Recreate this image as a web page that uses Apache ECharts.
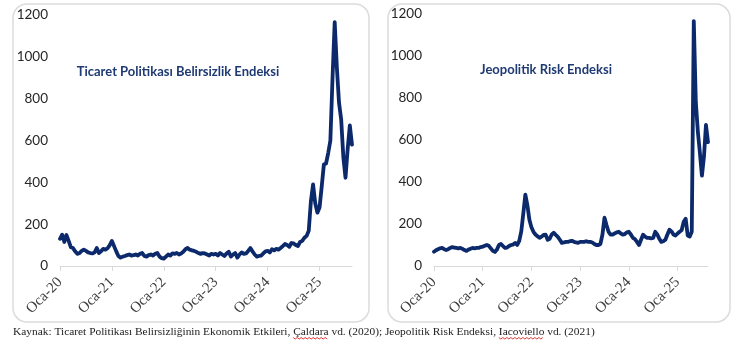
<!DOCTYPE html>
<html>
<head>
<meta charset="utf-8">
<script src="https://cdn.jsdelivr.net/npm/echarts@6/dist/echarts.min.js"></script>
<style>
  html, body { margin: 0; padding: 0; background: #fff; }
  #main { width: 740px; height: 351px; }
</style>
</head>
<body>
<div id="main"></div>
<script>
// yillik etiketler (her 24 yarim-ay noktasinda bir tane)
var tickLabels = ['Oca-20', 'Oca-21', 'Oca-22', 'Oca-23', 'Oca-24', 'Oca-25'];

// Ticaret Politikasi Belirsizlik Endeksi, yarim-aylik okuma (Oca-20 .. Agu-25)
var tpuValues = [
  130, 150, 115, 148, 120, 90, 86, 70, 58, 62, 72, 78, 72, 65, 62, 60, 65, 86, 62, 70, 82, 78, 85, 100,
  120, 95, 70, 48, 40, 45, 48, 52, 55, 50, 52, 55, 50, 58, 62, 48, 45, 52, 55, 50, 58, 62, 45, 38,
  35, 45, 55, 50, 60, 58, 62, 55, 60, 68, 80, 86, 78, 75, 72, 68, 62, 58, 62, 60, 55, 50, 58, 55,
  58, 50, 62, 55, 48, 60, 68, 45, 55, 62, 40, 55, 65, 58, 60, 72, 86, 70, 55, 45, 48, 50, 60, 70,
  72, 65, 80, 75, 82, 78, 86, 95, 105, 100, 92, 110, 108, 100, 95, 115, 120, 135, 144, 168, 310, 390, 300, 255,
  280, 380, 485, 490, 540, 600, 900, 1166, 950, 780, 700, 520, 422, 560, 672, 580
];

// Jeopolitik Risk Endeksi, yarim-aylik okuma
var gprValues = [
  68, 75, 80, 84, 86, 80, 76, 80, 86, 90, 88, 86, 84, 86, 82, 76, 72, 78, 82, 86, 84, 86, 86, 90,
  92, 96, 100, 96, 84, 72, 67, 78, 100, 105, 95, 86, 88, 95, 100, 102, 110, 100, 120, 165, 250, 340, 290, 220,
  185, 163, 150, 142, 134, 140, 148, 149, 125, 130, 150, 158, 148, 139, 125, 110, 112, 115, 115, 118, 120, 115, 112, 110,
  115, 115, 115, 118, 115, 115, 112, 105, 100, 100, 105, 150, 230, 195, 163, 150, 149, 155, 160, 163, 155, 149, 152, 160,
  163, 150, 134, 128, 115, 100, 125, 149, 140, 134, 134, 132, 134, 163, 150, 130, 115, 118, 125, 150, 173, 165, 150, 145,
  155, 163, 170, 210, 225, 145, 140, 163, 1166, 780, 640, 540, 430, 520, 672, 590
];

var titles = ['Ticaret Politikası Belirsizlik Endeksi', 'Jeopolitik Risk Endeksi'];
var sourceText = 'Kaynak: Ticaret Politikası Belirsizliğinin Ekonomik Etkileri, Çaldara vd. (2020); Jeopolitik Risk Endeksi, Iacoviello vd. (2021)';
var flaggedWords = ['Çaldara', 'Iacoviello'];   // kelime islemcinin kirmizi dalgali cizgisi

var categories = tpuValues.map(function (v, i) { return i; });

var lineColor = '#0c2a6b';
var sourceFont = '11.4px "Liberation Serif"';

function isYearStart(idx) { return idx % 24 === 0; }

function xAxisFor(gridIndex) {
  return {
    type: 'category',
    gridIndex: gridIndex,
    data: categories,
    boundaryGap: false,
    axisLine: { lineStyle: { color: '#d9d9d9', width: 1 } },
    axisTick: { show: true, interval: isYearStart, length: 5, lineStyle: { color: '#d9d9d9' } },
    axisLabel: {
      interval: isYearStart,
      rotate: 45,
      margin: 14,
      color: '#404040',
      fontFamily: 'Liberation Serif',
      fontSize: 15,
      formatter: function (v, idx) { return tickLabels[idx / 24]; }
    },
    splitLine: { show: false }
  };
}

function yAxisFor(gridIndex) {
  return {
    type: 'value',
    gridIndex: gridIndex,
    min: 0,
    max: 1200,
    interval: 200,
    axisLine: { show: false },
    axisTick: { show: false },
    splitLine: { show: false },
    axisLabel: {
      margin: 12, color: '#262626', fontFamily: 'Lato', fontSize: 13.5,
      formatter: function (v) { return String(v); }
    }
  };
}

// dalgali alt cizgiler icin kaynak metnini olc
var measureCtx = document.createElement('canvas').getContext('2d');
measureCtx.font = sourceFont;
function squiggle(word) {
  var start = sourceText.indexOf(word);
  var x0 = 13 + measureCtx.measureText(sourceText.slice(0, start)).width;
  var w = measureCtx.measureText(word).width;
  var pts = [];
  for (var k = 0; k * 2 <= w; k++) {
    pts.push([x0 + k * 2, k % 2 === 0 ? 337.5 : 339]);
  }
  return { type: 'polyline', shape: { points: pts },
    style: { stroke: '#e02020', lineWidth: 0.9, fill: null } };
}

var chart = echarts.init(document.getElementById('main'), null, { renderer: 'canvas' });

var option = {
  backgroundColor: '#fff',
  animation: false,
  grid: [
    { left: 60, right: 388, top: 15, bottom: 85 },
    { left: 434, right: 32, top: 14, bottom: 85 }
  ],
  xAxis: [xAxisFor(0), xAxisFor(1)],
  yAxis: [yAxisFor(0), yAxisFor(1)],
  series: [
    {
      name: titles[0], type: 'line', xAxisIndex: 0, yAxisIndex: 0,
      data: tpuValues, showSymbol: false,
      lineStyle: { color: lineColor, width: 3.8, join: 'round', cap: 'round' }
    },
    {
      name: titles[1], type: 'line', xAxisIndex: 1, yAxisIndex: 1,
      data: gprValues, showSymbol: false,
      lineStyle: { color: lineColor, width: 3.8, join: 'round', cap: 'round' }
    }
  ],
  graphic: [
    { type: 'rect', z: -1, shape: { x: 13, y: 4, width: 356, height: 318, r: 14 },
      style: { fill: 'none', stroke: '#dcdcdc', lineWidth: 1.5 } },
    { type: 'rect', z: -1, shape: { x: 388, y: 4, width: 342, height: 318, r: 14 },
      style: { fill: 'none', stroke: '#dcdcdc', lineWidth: 1.5 } },
    { type: 'text', x: 178, y: 72,
      style: { text: titles[0], align: 'center', verticalAlign: 'middle',
        font: 'bold 13px Lato', fill: '#1f3a73' } },
    { type: 'text', x: 546, y: 70,
      style: { text: titles[1], align: 'center', verticalAlign: 'middle',
        font: 'bold 13px Lato', fill: '#1f3a73' } },
    { type: 'text', x: 13, y: 332,
      style: { text: sourceText, align: 'left', verticalAlign: 'middle',
        font: sourceFont, fill: '#222' } }
  ].concat(flaggedWords.map(squiggle))
};

chart.setOption(option);
</script>
</body>
</html>
